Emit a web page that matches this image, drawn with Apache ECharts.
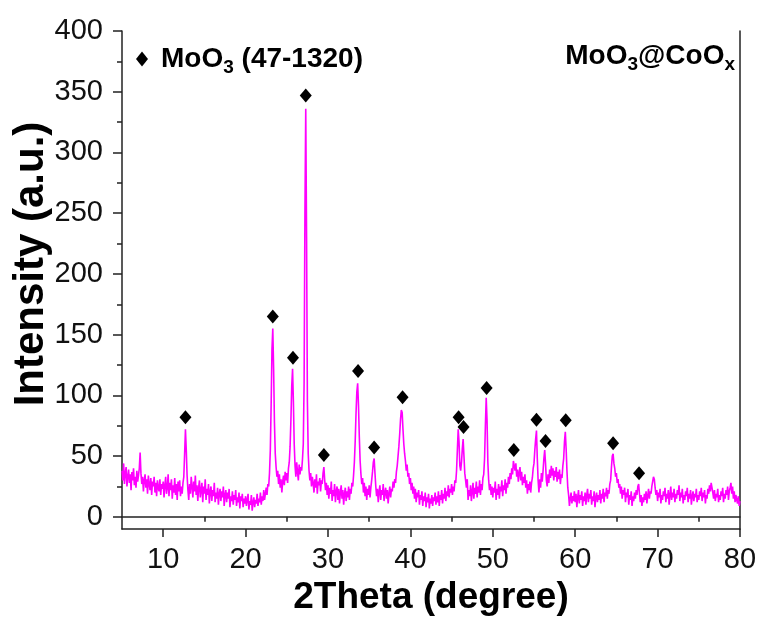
<!DOCTYPE html>
<html>
<head>
<meta charset="utf-8">
<script src="https://cdn.jsdelivr.net/npm/echarts@6/dist/echarts.min.js"></script>
<style>
  html, body { margin: 0; padding: 0; background: #fff; }
  #chart { width: 762px; height: 619px; }
</style>
</head>
<body>
<div id="chart"></div>
<script>
// 2Theta grid of the scan (degree)
var thetaStart = 5.0;
var thetaStep = 0.1;

// intensity, 5 degree blocks
var int05 = [38,30,44,27,36,41,25,33,39,28, 35,22,37,30,40,26,33,24,38,29, 34,40,53,36,27,33,21,30,35,24, 31,19,34,27,22,32,18,29,25,33, 20,28,17,30,24,21,31,18,27,23];
var int10 = [29,16,26,33,19,24,35,17,28,22, 31,15,26,20,32,18,27,14,29,21, 30,17,25,19,28,33,52,72,55,34, 22,14,27,19,33,25,16,29,21,34, 18,26,13,24,30,16,22,28,12,25];
var int15 = [19,31,14,23,18,27,11,21,25,13, 22,17,28,12,20,15,24,10,19,23, 13,21,16,25,9,18,22,12,20,15, 23,8,17,13,21,10,18,14,22,9, 16,12,20,7,17,13,19,8,15,11];
var int20 = [17,9,14,19,6,13,10,18,5,12, 16,8,14,11,19,9,15,12,20,10, 17,13,22,14,19,24,18,27,25,36, 55,92,138,155,122,78,52,41,33,38, 27,35,24,31,20,29,34,26,37,30];
var int25 = [36,28,40,45,58,80,108,122,95,60, 42,33,45,37,30,43,35,41,38,47, 60,110,250,336,230,95,52,38,30,36, 25,33,28,20,31,24,35,19,29,26, 32,21,30,27,36,41,30,22,28,18];
var int30 = [26,15,24,19,29,13,22,17,27,12, 21,25,14,23,11,20,26,15,22,10, 19,24,13,21,16,25,14,23,19,28, 25,34,45,62,85,103,110,92,66,46, 35,27,32,20,28,17,25,14,23,18];
var int35 = [26,16,24,30,37,45,48,36,25,17, 23,12,21,26,14,22,18,27,13,20, 24,15,22,11,19,25,16,23,21,29, 24,31,28,37,42,50,58,68,80,88, 86,72,60,52,46,38,43,33,36,27];
var int40 = [32,22,28,19,25,15,23,12,20,16, 22,10,18,14,21,9,17,13,20,8, 16,12,19,7,15,11,18,9,16,13, 20,10,17,12,21,9,18,14,22,11, 19,15,24,13,21,17,26,16,23,20];
var int45 = [27,18,25,21,30,28,38,55,72,62, 42,38,45,56,64,50,36,30,24,31, 14,22,17,26,13,21,28,15,24,19, 29,16,25,20,30,18,27,22,32,35, 48,75,98,80,45,30,22,27,18,25];
var int50 = [16,24,20,29,14,23,18,27,15,25, 21,30,17,26,22,31,19,28,24,33, 27,36,31,40,35,46,42,38,44,33, 39,29,36,41,30,37,26,33,28,35, 24,30,19,27,22,29,20,28,32,40];
var int55 = [44,55,64,71,48,30,20,31,24,36, 29,38,48,55,44,30,25,35,28,39, 32,42,34,40,30,38,33,41,29,37, 31,39,27,35,32,42,48,62,70,56, 38,24,18,9,15,20,11,17,13,21];
var int60 = [12,19,8,16,22,11,18,14,21,9, 17,13,20,10,18,23,12,19,15,22, 10,17,13,21,8,16,20,12,18,14, 22,11,19,15,23,12,20,17,24,15, 22,19,27,30,41,50,52,44,40,33];
var int65 = [36,28,31,24,27,19,25,15,22,18, 24,12,20,16,23,10,18,14,21,9, 17,13,20,15,22,18,25,27,19,12, 18,9,16,12,19,14,21,11,17,23, 15,21,19,25,29,33,31,24,18,22];
var int70 = [13,20,16,23,11,18,14,21,17,24, 12,19,15,22,10,18,25,14,20,16, 23,12,19,15,22,18,26,13,20,16, 23,11,18,14,21,17,24,12,19,15, 22,10,17,21,13,19,16,23,12,18];
var int75 = [14,21,17,24,13,20,16,22,11,18, 15,23,19,26,21,28,24,20,15,22, 13,19,16,23,12,18,14,21,17,24, 12,19,15,22,18,25,14,21,24,28, 19,25,15,21,12,18,14,11,17,9, 13];

// MoO3 (47-1320) reflections marked on the pattern
var markTheta = [12.7, 23.3, 25.75, 27.3, 29.5, 33.65, 35.6, 39.05, 45.85, 46.45, 49.25, 52.55, 55.3, 56.4, 58.85, 64.6, 67.75];
var markHeight = [82, 165, 131, 347, 51, 120, 57, 98.5, 82, 74, 106, 55, 80, 62.5, 79.5, 60.5, 36];

var yLabels = [0, 50, 100, 150, 200, 250, 300, 350, 400];
var yMinor = [25, 75, 125, 175, 225, 275, 325, 375];
var xLabels = [10, 20, 30, 40, 50, 60, 70, 80];
var xMinor = [15, 25, 35, 45, 55, 65, 75];

var intensity = [].concat(int05, int10, int15, int20, int25, int30, int35, int40,
    int45, int50, int55, int60, int65, int70, int75);
var pattern = intensity.map(function (v, i) {
    return [+(thetaStart + i * thetaStep).toFixed(1), v];
});
var marks = markTheta.map(function (t, i) { return [t, markHeight[i]]; });

var FONT = 'Liberation Sans';
var AXIS = '#222';

var chart = echarts.init(document.getElementById('chart'));
chart.setOption({
    animation: false,
    backgroundColor: '#fff',
    textStyle: { fontFamily: FONT },
    title: {
        text: '{b|MoO}{s|3}{b|@CoO}{s|x}',
        right: 27,
        top: 38,
        padding: 0,
        textStyle: {
            rich: {
                b: { fontFamily: FONT, fontWeight: 'bold', fontSize: 28, color: '#000', lineHeight: 36, verticalAlign: 'middle' },
                s: { fontFamily: FONT, fontWeight: 'bold', fontSize: 19, color: '#000', lineHeight: 36, verticalAlign: 'bottom' }
            }
        }
    },
    legend: {
        left: 136,
        top: 45,
        padding: 0,
        icon: 'diamond',
        itemWidth: 12,
        itemHeight: 15,
        data: ['MoO3 (47-1320)'],
        formatter: function () { return '{b|MoO}{s|3}{b| (47-1320)}'; },
        textStyle: {
            padding: [0, 0, 0, 8],
            rich: {
                b: { fontFamily: FONT, fontWeight: 'bold', fontSize: 28, color: '#000', lineHeight: 36, verticalAlign: 'middle' },
                s: { fontFamily: FONT, fontWeight: 'bold', fontSize: 19, color: '#000', lineHeight: 36, verticalAlign: 'bottom' }
            }
        }
    },
    grid: { left: 122, right: 22, top: 31, bottom: 90, outerBoundsMode: 'none', containLabel: false },
    graphic: [{
        type: 'text',
        x: 31,
        y: 264,
        rotation: Math.PI / 2,
        style: {
            text: 'Intensity (a.u.)',
            fontFamily: FONT,
            fontWeight: 'bold',
            fontSize: 42,
            fill: '#000',
            align: 'center',
            verticalAlign: 'middle'
        }
    }],
    xAxis: [{
        type: 'value',
        min: 5,
        max: 80,
        name: '2Theta (degree)',
        nameLocation: 'middle',
        nameGap: 42,
        nameTextStyle: { fontFamily: FONT, fontWeight: 'bold', fontSize: 37, color: '#000' },
        axisLine: { show: true, onZero: false, lineStyle: { color: AXIS, width: 1.5 } },
        axisTick: { show: true, inside: false, length: 8, customValues: xLabels, lineStyle: { color: AXIS, width: 1.5 } },
        axisLabel: { customValues: xLabels, margin: 16, fontFamily: FONT, fontSize: 29, color: '#111' },
        splitLine: { show: false }
    }, {
        type: 'value',
        min: 5,
        max: 80,
        position: 'bottom',
        axisLine: { show: false },
        axisTick: { show: true, length: 5, customValues: xMinor, lineStyle: { color: AXIS, width: 1.5 } },
        axisLabel: { show: false },
        splitLine: { show: false }
    }, {
        type: 'value',
        min: 5,
        max: 80,
        position: 'top',
        axisLine: { show: true, lineStyle: { color: AXIS, width: 1.5 } },
        axisTick: { show: false },
        axisLabel: { show: false },
        splitLine: { show: false }
    }],
    yAxis: [{
        type: 'value',
        min: -10,
        max: 400,
        axisLine: { show: true, onZero: false, lineStyle: { color: AXIS, width: 1.5 } },
        axisTick: { show: true, inside: false, length: 9, customValues: yLabels, lineStyle: { color: AXIS, width: 1.5 } },
        axisLabel: { customValues: yLabels, margin: 19, fontFamily: FONT, fontSize: 29, color: '#111' },
        splitLine: { show: false }
    }, {
        type: 'value',
        min: -10,
        max: 400,
        position: 'left',
        axisLine: { show: false },
        axisTick: { show: true, length: 5, customValues: yMinor, lineStyle: { color: AXIS, width: 1.5 } },
        axisLabel: { show: false },
        splitLine: { show: false }
    }, {
        type: 'value',
        min: -10,
        max: 400,
        position: 'right',
        axisLine: { show: true, lineStyle: { color: AXIS, width: 1.5 } },
        axisTick: { show: false },
        axisLabel: { show: false },
        splitLine: { show: false }
    }],
    series: [{
        name: 'MoO3@CoOx',
        type: 'line',
        data: pattern,
        showSymbol: false,
        symbol: 'none',
        sampling: null,
        lineStyle: { color: '#ff00ff', width: 1.6 },
        z: 2
    }, {
        name: 'MoO3 (47-1320)',
        type: 'scatter',
        data: marks,
        symbol: 'diamond',
        symbolSize: [12, 14],
        itemStyle: { color: '#000', opacity: 1 },
        z: 3
    }]
});
</script>
</body>
</html>
